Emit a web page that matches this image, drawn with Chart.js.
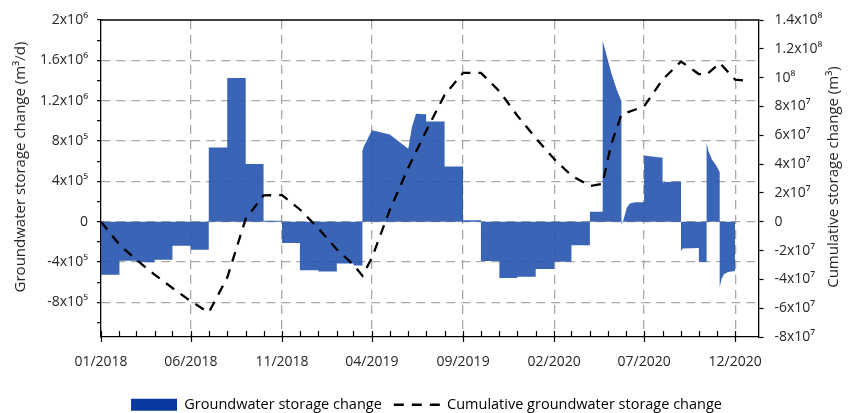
<!DOCTYPE html>
<html>
<head>
<meta charset="utf-8">
<script src="https://cdn.jsdelivr.net/npm/chart.js@4.4.1/dist/chart.umd.min.js"></script>
<style>
  html, body { margin: 0; padding: 0; background: #fff; }
  #wrap { width: 853px; height: 413px; }
</style>
</head>
<body>
<div id="wrap"><canvas id="chart"></canvas></div>
<script>
// daily groundwater storage change (m3/d), breakpoints: same date twice = step
const storageDates = [
  '2018-01-01','2018-02-01','2018-02-01','2018-03-01','2018-03-01','2018-04-01',
  '2018-04-01','2018-05-01','2018-05-01','2018-06-01','2018-06-01','2018-07-01',
  '2018-07-01','2018-08-01','2018-08-01','2018-09-01','2018-09-01','2018-10-01',
  '2018-10-01','2018-11-01','2018-11-01','2018-12-01','2018-12-01','2019-01-01',
  '2019-01-01','2019-02-01','2019-02-01','2019-03-01','2019-03-01','2019-03-16',
  '2019-03-16','2019-03-18','2019-04-01','2019-05-01','2019-06-01','2019-06-07',
  '2019-06-14','2019-07-01','2019-07-01','2019-08-01','2019-08-01','2019-09-01',
  '2019-09-01','2019-10-01','2019-10-01','2019-11-01','2019-11-01','2019-12-01',
  '2019-12-01','2020-01-01','2020-01-01','2020-02-01','2020-02-01','2020-03-01',
  '2020-03-01','2020-04-01','2020-04-01','2020-04-22','2020-04-22','2020-04-23',
  '2020-04-29','2020-05-07','2020-05-16','2020-05-24','2020-05-24','2020-05-27',
  '2020-06-02','2020-06-07','2020-06-16','2020-07-01','2020-07-01','2020-08-01',
  '2020-08-01','2020-08-05','2020-09-01','2020-09-01','2020-09-04','2020-10-01',
  '2020-10-01','2020-10-14','2020-10-14','2020-10-17','2020-10-23','2020-10-31',
  '2020-11-05','2020-11-05','2020-11-08','2020-11-12','2020-11-19','2020-12-01'
];
const storageValues = [
  -525000,-525000,-386000,-386000,-402000,-402000,
  -376000,-376000,-238000,-238000,-277000,-277000,
  735000,735000,1425000,1425000,573000,573000,
  10000,10000,-210000,-210000,-482000,-482000,
  -493000,-493000,-415000,-415000,-435000,-435000,
  700000,740000,907000,865000,723000,934000,
  1070000,1066000,993000,993000,548000,548000,
  15000,15000,-390000,-390000,-557000,-557000,
  -545000,-545000,-469000,-469000,-397000,-397000,
  -233000,-233000,98000,98000,970000,1795000,
  1650000,1475000,1310000,1195000,-27000,10000,
  139000,181000,194000,194000,656000,634000,
  386000,395000,400000,-290000,-265000,-260000,
  -400000,-400000,780000,700000,617000,550000,
  490000,-650000,-570000,-520000,-499000,-489000
];

// cumulative groundwater storage change (m3)
const cumDates = [
  '2018-01-01','2018-02-01','2018-03-01','2018-04-01','2018-05-01','2018-06-01',
  '2018-07-01','2018-08-01','2018-09-01','2018-10-01','2018-11-01','2018-12-01',
  '2019-01-01','2019-02-01','2019-03-01','2019-03-16','2019-04-01','2019-05-01',
  '2019-06-01','2019-07-01','2019-08-01','2019-09-01','2019-10-01','2019-11-01',
  '2019-12-01','2020-01-01','2020-02-01','2020-03-01','2020-04-01','2020-04-22',
  '2020-05-07','2020-05-24','2020-07-01','2020-08-01','2020-09-01','2020-10-01',
  '2020-10-14','2020-11-05','2020-12-01','2020-12-15'
];
const cumValues = [
  0,-1.6e7,-2.63e7,-3.67e7,-4.6e7,-5.52e7,
  -6.3e7,-3.88e7,0.2e7,1.83e7,1.85e7,0.85e7,
  -0.46e7,-1.92e7,-2.98e7,-3.75e7,-2.5e7,0.82e7,
  3.74e7,6.3e7,8.8e7,1.033e8,1.033e8,9.06e7,
  7.37e7,5.81e7,4.35e7,3.21e7,2.48e7,2.62e7,
  5.4e7,7.44e7,8.0e7,9.86e7,1.112e8,1.025e8,
  1.02e8,1.102e8,9.86e7,9.8e7
];

const xLabelDates = ['2018-01-01','2018-06-01','2018-11-01','2019-04-01','2019-09-01','2020-02-01','2020-07-01','2020-12-01'];
const xLabels = ['01/2018','06/2018','11/2018','04/2019','09/2019','02/2020','07/2020','12/2020'];

const leftTickValues = [2e6, 1.6e6, 1.2e6, 8e5, 4e5, 0, -4e5, -8e5];
const leftTickLabels = ['2x10⁶','1.6x10⁶','1.2x10⁶','8x10⁵','4x10⁵','0','-4x10⁵','-8x10⁵'];

const rightTickValues = [1.4e8, 1.2e8, 1e8, 8e7, 6e7, 4e7, 2e7, 0, -2e7, -4e7, -6e7, -8e7];
const rightTickLabels = ['1.4x10⁸','1.2x10⁸','10⁸','8x10⁷','6x10⁷','4x10⁷','2x10⁷','0','-2x10⁷','-4x10⁷','-6x10⁷','-8x10⁷'];

const leftTitle = 'Groundwater storage change (m³/d)';
const rightTitle = 'Cumulative storage change (m³)';
const seriesNames = ['Groundwater storage change', 'Cumulative groundwater storage change'];

const textColor = '#262626';
const gridColor = '#a9a9a9';
const barFill = 'rgba(37, 83, 174, 0.9)';

function dayOf(s) {
  return (Date.UTC(+s.slice(0, 4), +s.slice(5, 7) - 1, +s.slice(8, 10)) - Date.UTC(2018, 0, 1)) / 864e5;
}

// month ticks along the time axis
const monthTicks = [];
for (let y = 2018; y <= 2020; y++) {
  for (let m = 1; m <= 12; m++) {
    monthTicks.push(dayOf(y + '-' + String(m).padStart(2, '0') + '-01'));
  }
}
const majorDays = xLabelDates.map(dayOf);

const leftMinor = [];
for (let v = -1e6; v <= 2e6 + 1; v += 2e5) leftMinor.push(Math.round(v));
const rightMinor = [];
for (let v = -8e7; v <= 1.4e8 + 1; v += 1e7) rightMinor.push(Math.round(v));

function labelFor(values, labels, v) {
  const i = values.findIndex(t => Math.abs(t - v) < 1);
  return i >= 0 ? labels[i] : '';
}

const framePlugin = {
  id: 'framePlugin',
  afterDraw(chart) {
    const {ctx, chartArea: a, scales} = chart;
    ctx.save();
    ctx.strokeStyle = '#000';
    ctx.lineWidth = 1.3;
    ctx.beginPath();
    ctx.moveTo(a.left, a.top);
    ctx.lineTo(a.right, a.top);
    ctx.stroke();
    ctx.lineWidth = 1.2;
    monthTicks.forEach(v => {
      const x = Math.round(scales.x.getPixelForValue(v)) + 0.5;
      const major = majorDays.includes(v);
      ctx.beginPath();
      ctx.moveTo(x, a.bottom - 6);
      ctx.lineTo(x, a.bottom + (major ? 5 : 0));
      ctx.stroke();
    });
    ctx.fillStyle = textColor;
    ctx.font = '15px "Open Sans"';
    ctx.textAlign = 'center';
    ctx.textBaseline = 'middle';
    [[21, 167, leftTitle], [834, 177, rightTitle]].forEach(([x, y, t]) => {
      ctx.save();
      ctx.translate(x, y);
      ctx.rotate(-Math.PI / 2);
      ctx.fillText(t, 0, 0);
      ctx.restore();
    });
    ctx.restore();
  }
};

Chart.defaults.font.family = '"Open Sans"';
Chart.defaults.font.size = 14;
Chart.defaults.color = textColor;

new Chart(document.getElementById('chart'), {
  type: 'line',
  data: {
    datasets: [
      {
        label: seriesNames[0],
        data: storageDates.map((d, i) => ({x: dayOf(d), y: storageValues[i]})),
        yAxisID: 'y',
        fill: 'origin',
        backgroundColor: barFill,
        borderColor: 'transparent',
        borderWidth: 0,
        pointRadius: 0,
        tension: 0,
        order: 2
      },
      {
        label: seriesNames[1],
        data: cumDates.map((d, i) => ({x: dayOf(d), y: cumValues[i]})),
        yAxisID: 'y2',
        fill: false,
        borderColor: '#000',
        borderWidth: 2.3,
        borderDash: [10, 8],
        pointRadius: 0,
        tension: 0,
        order: 1
      }
    ]
  },
  options: {
    responsive: true,
    maintainAspectRatio: false,
    animation: false,
    layout: {padding: {top: 20, left: 0, right: 0, bottom: -9}},
    plugins: {
      tooltip: {enabled: false},
      legend: {
        position: 'bottom',
        labels: {
          usePointStyle: true,
          pointStyleWidth: 46,
          boxHeight: 12,
          padding: 12,
          color: textColor,
          font: {size: 14.5},
          generateLabels: () => [
            {text: seriesNames[0], fillStyle: '#0a3aa0', strokeStyle: '#0a3aa0', lineWidth: 0, pointStyle: 'rect', datasetIndex: 0, hidden: false},
            {text: seriesNames[1], fillStyle: 'transparent', strokeStyle: '#000', lineWidth: 2.3, lineDash: [10, 8], pointStyle: 'line', datasetIndex: 1, hidden: false}
          ]
        }
      }
    },
    scales: {
      x: {
        type: 'linear',
        min: 0,
        max: 1105,
        afterBuildTicks: s => { s.ticks = monthTicks.map(v => ({value: v})); },
        afterFit: s => { s.height = 48.5; },
        ticks: {
          autoSkip: false,
          maxRotation: 0,
          padding: 17,
          callback: v => labelFor(majorDays, xLabels, v)
        },
        grid: {
          drawTicks: false,
          lineWidth: 1.3,
          color: c => (c.tick && majorDays.includes(c.tick.value) && c.tick.value > 0) ? gridColor : 'transparent'
        },
        border: {color: '#000', width: 1.3, dash: [9, 6]}
      },
      y: {
        position: 'left',
        min: -8 / 14 * 2e6,
        max: 2e6,
        afterBuildTicks: s => { s.ticks = leftMinor.map(v => ({value: v})); },
        afterFit: s => { s.width = 101; },
        ticks: {
          padding: 9,
          callback: v => labelFor(leftTickValues, leftTickLabels, v)
        },
        grid: {
          lineWidth: 1.3,
          tickLength: 4,
          tickWidth: 1.2,
          tickColor: '#000',
          color: c => (c.tick && leftTickValues.some(t => Math.abs(t - c.tick.value) < 1) && c.tick.value < 2e6) ? gridColor : 'transparent'
        },
        border: {color: '#000', width: 1.3, dash: [9, 6]}
      },
      y2: {
        position: 'right',
        min: -8e7,
        max: 1.4e8,
        afterBuildTicks: s => { s.ticks = rightMinor.map(v => ({value: v})); },
        afterFit: s => { s.width = 94; },
        ticks: {
          padding: 11,
          callback: v => labelFor(rightTickValues, rightTickLabels, v)
        },
        grid: {
          drawOnChartArea: false,
          tickLength: 4.5,
          tickWidth: 1.2,
          tickColor: '#000'
        },
        border: {color: '#000', width: 1.3}
      }
    }
  },
  plugins: [framePlugin]
});
</script>
</body>
</html>
